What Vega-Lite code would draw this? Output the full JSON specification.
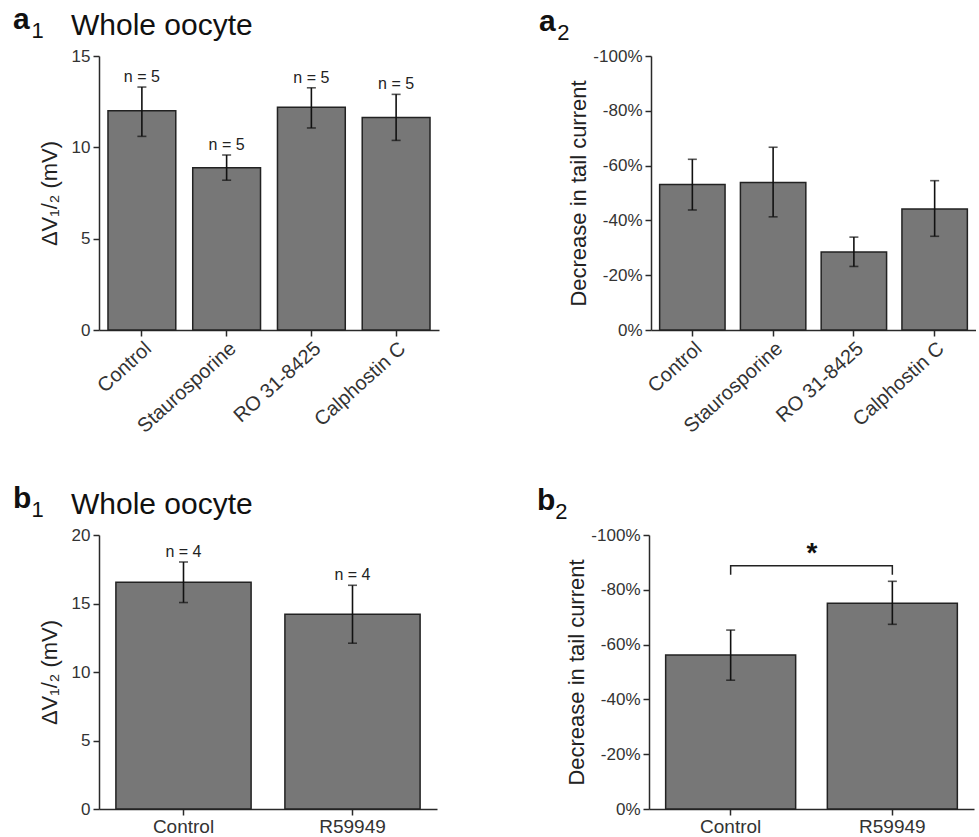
{
  "$schema": "https://vega.github.io/schema/vega-lite/v6.json",
  "padding": {"left": 13, "top": 5, "right": 0, "bottom": 0},
  "background": "white",
  "config": {
    "font": "Liberation Sans",
    "view": {"stroke": null},
    "axis": {"domainColor": "#2a2a2a", "domainWidth": 1.5, "tickColor": "#2a2a2a", "tickWidth": 1.5, "tickSize": 6, "labelColor": "#333333", "labelFontSize": 17, "labelFont": "Liberation Sans", "titleFont": "Liberation Sans", "titleColor": "#222222", "titleFontSize": 22, "titleFontWeight": "normal", "grid": false, "labelPadding": 3},
    "title": {"font": "Liberation Sans", "color": "#111111", "subtitleFont": "Liberation Sans", "subtitleColor": "#111111", "anchor": "start"}
  },
  "spacing": 47,
  "vconcat": [
    {
      "title": {"text": "a", "subtitle": "\u200b\u00a0\u00a0\u00a01", "fontSize": 30, "fontWeight": "bold", "subtitleFontSize": 22, "subtitlePadding": -14, "anchor": "start", "offset": -35, "dx": -25},
      "spacing": 100,
      "hconcat": [
        {
          "width": 340, "height": 274,
          "title": {"text": "Whole oocyte", "fontSize": 30, "fontWeight": "normal", "anchor": "start", "frame": "group", "dx": -28, "offset": 6},
          "data": {"values": [
            {"group": "Control", "mean": 12.0, "lo": 10.6, "hi": 13.3, "n": "n = 5"},
            {"group": "Staurosporine", "mean": 8.88, "lo": 8.2, "hi": 9.58, "n": "n = 5"},
            {"group": "RO 31-8425", "mean": 12.19, "lo": 11.06, "hi": 13.26, "n": "n = 5"},
            {"group": "Calphostin C", "mean": 11.64, "lo": 10.38, "hi": 12.9, "n": "n = 5"}
          ]},
          "encoding": {"x": {"field": "group", "type": "nominal", "scale": {"domain": ["Control", "Staurosporine", "RO 31-8425", "Calphostin C"], "paddingInner": 0.2, "paddingOuter": 0.106}, "axis": {"title": null, "labelAngle": -42, "labelFontSize": 20, "labelPadding": 2}}},
          "layer": [
            {"mark": {"type": "bar", "fill": "#777777", "stroke": "#222222", "strokeWidth": 1.5},
             "encoding": {"y": {"field": "mean", "type": "quantitative", "title": "ΔV₁/₂ (mV)", "scale": {"domain": [0, 15], "nice": false}, "axis": {"values": [0, 5, 10, 15], "titlePadding": 10}}}},
            {"mark": {"type": "rule", "color": "#111111", "strokeWidth": 1.6},
             "encoding": {"y": {"field": "lo", "type": "quantitative", "title": "ΔV₁/₂ (mV)"}, "y2": {"field": "hi"}}},
            {"mark": {"type": "tick", "color": "#111111", "thickness": 1.6, "size": 9},
             "encoding": {"y": {"field": "lo", "type": "quantitative", "title": "ΔV₁/₂ (mV)"}}},
            {"mark": {"type": "tick", "color": "#111111", "thickness": 1.6, "size": 9},
             "encoding": {"y": {"field": "hi", "type": "quantitative", "title": "ΔV₁/₂ (mV)"}}},
            {"mark": {"type": "text", "fontSize": 16, "dy": -10, "color": "#222222"},
             "encoding": {"y": {"field": "hi", "type": "quantitative", "title": "ΔV₁/₂ (mV)"}, "text": {"field": "n"}}}
          ]
        },
        {
          "width": 325, "height": 274,
          "title": {"text": "a", "subtitle": "\u200b\u00a0\u00a0\u00a02", "fontSize": 30, "fontWeight": "bold", "subtitleFontSize": 22, "subtitlePadding": -14, "anchor": "start", "frame": "group", "dx": -112, "offset": 3},
          "data": {"values": [
            {"group": "Control", "mean": -53.1, "lo": -43.8, "hi": -62.3},
            {"group": "Staurosporine", "mean": -53.8, "lo": -41.3, "hi": -66.7},
            {"group": "RO 31-8425", "mean": -28.5, "lo": -23.2, "hi": -33.9},
            {"group": "Calphostin C", "mean": -44.2, "lo": -34.2, "hi": -54.5}
          ]},
          "encoding": {"x": {"field": "group", "type": "nominal", "scale": {"domain": ["Control", "Staurosporine", "RO 31-8425", "Calphostin C"], "paddingInner": 0.19, "paddingOuter": 0.107}, "axis": {"title": null, "labelAngle": -42, "labelFontSize": 20, "labelPadding": 2}}},
          "layer": [
            {"mark": {"type": "bar", "fill": "#777777", "stroke": "#222222", "strokeWidth": 1.5},
             "encoding": {"y": {"field": "mean", "type": "quantitative", "title": "Decrease in tail current", "scale": {"domain": [0, -100], "nice": false}, "axis": {"values": [0, -20, -40, -60, -80, -100], "labelExpr": "datum.value + '%'", "titlePadding": 2}}}},
            {"mark": {"type": "rule", "color": "#111111", "strokeWidth": 1.6},
             "encoding": {"y": {"field": "lo", "type": "quantitative", "title": "Decrease in tail current"}, "y2": {"field": "hi"}}},
            {"mark": {"type": "tick", "color": "#111111", "thickness": 1.6, "size": 9},
             "encoding": {"y": {"field": "lo", "type": "quantitative", "title": "Decrease in tail current"}}},
            {"mark": {"type": "tick", "color": "#111111", "thickness": 1.6, "size": 9},
             "encoding": {"y": {"field": "hi", "type": "quantitative", "title": "Decrease in tail current"}}}
          ]
        }
      ]
    },
    {
      "title": {"text": "b", "subtitle": "\u200b\u00a0\u00a0\u00a01", "fontSize": 30, "fontWeight": "bold", "subtitleFontSize": 22, "subtitlePadding": -14, "anchor": "start", "offset": -35, "dx": -25},
      "spacing": 100,
      "hconcat": [
        {
          "width": 338, "height": 274,
          "title": {"text": "Whole oocyte", "fontSize": 30, "fontWeight": "normal", "anchor": "start", "frame": "group", "dx": -28, "offset": 6},
          "data": {"values": [
            {"group": "Control", "mean": 16.55, "lo": 15.07, "hi": 18.03, "n": "n = 4"},
            {"group": "R59949", "mean": 14.21, "lo": 12.1, "hi": 16.33, "n": "n = 4"}
          ]},
          "encoding": {"x": {"field": "group", "type": "nominal", "scale": {"domain": ["Control", "R59949"], "paddingInner": 0.2, "paddingOuter": 0.1}, "axis": {"title": null, "labelAngle": 0, "labelFontSize": 19, "labelPadding": 2}}},
          "layer": [
            {"mark": {"type": "bar", "fill": "#777777", "stroke": "#222222", "strokeWidth": 1.5},
             "encoding": {"y": {"field": "mean", "type": "quantitative", "title": "ΔV₁/₂ (mV)", "scale": {"domain": [0, 20], "nice": false}, "axis": {"values": [0, 5, 10, 15, 20], "titlePadding": 10}}}},
            {"mark": {"type": "rule", "color": "#111111", "strokeWidth": 1.6},
             "encoding": {"y": {"field": "lo", "type": "quantitative", "title": "ΔV₁/₂ (mV)"}, "y2": {"field": "hi"}}},
            {"mark": {"type": "tick", "color": "#111111", "thickness": 1.6, "size": 9},
             "encoding": {"y": {"field": "lo", "type": "quantitative", "title": "ΔV₁/₂ (mV)"}}},
            {"mark": {"type": "tick", "color": "#111111", "thickness": 1.6, "size": 9},
             "encoding": {"y": {"field": "hi", "type": "quantitative", "title": "ΔV₁/₂ (mV)"}}},
            {"mark": {"type": "text", "fontSize": 16, "dy": -10, "color": "#222222"},
             "encoding": {"y": {"field": "hi", "type": "quantitative", "title": "ΔV₁/₂ (mV)"}, "text": {"field": "n"}}}
          ]
        },
        {
          "width": 325, "height": 274,
          "title": {"text": "b", "subtitle": "\u200b\u00a0\u00a0\u00a02", "fontSize": 30, "fontWeight": "bold", "subtitleFontSize": 22, "subtitlePadding": -14, "anchor": "start", "frame": "group", "dx": -112, "offset": 3},
          "data": {"values": [
            {"group": "Control", "mean": -56.2, "lo": -47.0, "hi": -65.3},
            {"group": "R59949", "mean": -75.1, "lo": -67.4, "hi": -83.1}
          ]},
          "encoding": {"x": {"field": "group", "type": "nominal", "scale": {"domain": ["Control", "R59949"], "paddingInner": 0.196, "paddingOuter": 0.103}, "axis": {"title": null, "labelAngle": 0, "labelFontSize": 19, "labelPadding": 2}}},
          "layer": [
            {"mark": {"type": "bar", "fill": "#777777", "stroke": "#222222", "strokeWidth": 1.5},
             "encoding": {"y": {"field": "mean", "type": "quantitative", "title": "Decrease in tail current", "scale": {"domain": [0, -100], "nice": false}, "axis": {"values": [0, -20, -40, -60, -80, -100], "labelExpr": "datum.value + '%'", "titlePadding": 2}}}},
            {"mark": {"type": "rule", "color": "#111111", "strokeWidth": 1.6},
             "encoding": {"y": {"field": "lo", "type": "quantitative", "title": "Decrease in tail current"}, "y2": {"field": "hi"}}},
            {"mark": {"type": "tick", "color": "#111111", "thickness": 1.6, "size": 9},
             "encoding": {"y": {"field": "lo", "type": "quantitative", "title": "Decrease in tail current"}}},
            {"mark": {"type": "tick", "color": "#111111", "thickness": 1.6, "size": 9},
             "encoding": {"y": {"field": "hi", "type": "quantitative", "title": "Decrease in tail current"}}},
            {"data": {"values": [
               {"group": "Control", "v": -85.5, "o": 1},
               {"group": "Control", "v": -88.8, "o": 2},
               {"group": "R59949", "v": -88.8, "o": 3},
               {"group": "R59949", "v": -85.5, "o": 4}
             ]},
             "mark": {"type": "line", "color": "#222222", "strokeWidth": 1.5},
             "encoding": {"y": {"field": "v", "type": "quantitative", "title": "Decrease in tail current"}, "order": {"field": "o", "type": "quantitative"}}},
            {"data": {"values": [{"group": "Control", "v": -93, "t": "*"}]},
             "mark": {"type": "text", "fontSize": 28, "fontWeight": "bold", "baseline": "middle", "color": "#111111"},
             "encoding": {"x": {"field": "group", "type": "nominal", "bandPosition": 1.125}, "y": {"field": "v", "type": "quantitative", "title": "Decrease in tail current"}, "text": {"field": "t"}}}
          ]
        }
      ]
    }
  ]
}
